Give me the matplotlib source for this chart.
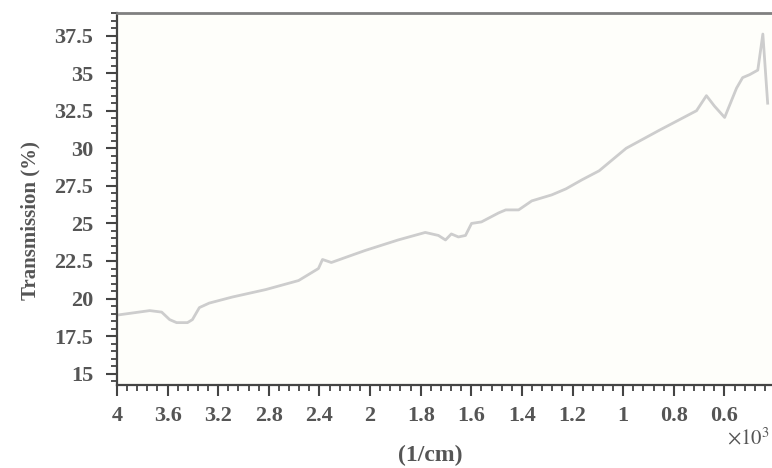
import numpy as np
import matplotlib
matplotlib.use('Agg')
import matplotlib.pyplot as plt
from matplotlib.ticker import FixedLocator, FixedFormatter, MultipleLocator

# wavenumber (1/cm) and transmission (%)
wavenumber = [4000, 3741, 3647, 3584, 3529, 3443, 3404, 3349, 3271, 3090,
              2824, 2565, 2408, 2376, 2306, 2173, 2039, 1889, 1782, 1730,
              1702, 1679, 1651, 1623, 1599, 1560, 1492, 1464, 1413, 1361,
              1282, 1226, 1163, 1095, 988, 857, 710, 671, 639, 599,
              552, 528, 500, 468, 448, 429]
transmission = [18.9, 19.2, 19.1, 18.6, 18.4, 18.4, 18.6, 19.4, 19.7, 20.1,
                20.6, 21.2, 22.0, 22.6, 22.4, 22.8, 23.2, 23.9, 24.4, 24.2,
                23.9, 24.3, 24.1, 24.2, 25.0, 25.1, 25.7, 25.9, 25.9, 26.5,
                26.9, 27.3, 27.9, 28.5, 30.0, 31.2, 32.5, 33.5, 32.8, 32.05,
                34.0, 34.7, 34.9, 35.2, 37.6, 33.0]

x_ticks = [4000, 3600, 3200, 2800, 2400, 2000, 1800, 1600, 1400, 1200, 1000, 800, 600]
x_tick_labels = ['4', '3.6', '3.2', '2.8', '2.4', '2', '1.8', '1.6', '1.4', '1.2', '1', '0.8', '0.6']
y_ticks = [15, 17.5, 20, 22.5, 25, 27.5, 30, 32.5, 35, 37.5]


# spectrum axis: above 2000 1/cm is drawn at half scale
def fwd(x):
    x = np.asarray(x, dtype=float)
    return np.where(x <= 2000, x, 2000 + (x - 2000) / 2)


def inv(t):
    t = np.asarray(t, dtype=float)
    return np.where(t <= 2000, t, 2000 + (t - 2000) * 2)


txt = '#555555'
plt.rcParams['font.family'] = ['Liberation Serif', 'DejaVu Serif']
plt.rcParams['mathtext.fontset'] = 'stix'

fig = plt.figure(figsize=(7.72, 4.68), dpi=100)
ax_w = 775 - 117
ax_h = 385 - 13
ax = fig.add_axes([117 / 772, 1 - 385 / 468, ax_w / 772, ax_h / 468])
ax.set_facecolor('#fefefa')

ax.set_xscale('function', functions=(fwd, inv))
ax.plot(wavenumber, transmission, color='#cdcdcd', lw=2)
ax.set_xlim(4000, 400)
ax.set_ylim(14.25, 39)

minor_x = list(np.arange(4000, 2000, -80)) + list(np.arange(2000, 400, -40))
ax.xaxis.set_major_locator(FixedLocator(x_ticks))
ax.xaxis.set_major_formatter(FixedFormatter(x_tick_labels))
ax.xaxis.set_minor_locator(FixedLocator(minor_x))
ax.yaxis.set_major_locator(FixedLocator(y_ticks))
ax.yaxis.set_major_formatter(FixedFormatter([f'{v:g}' for v in y_ticks]))
ax.yaxis.set_minor_locator(MultipleLocator(0.5))

ax.tick_params(which='major', direction='out', length=8, width=1.5, color='#444444',
               labelsize=16, labelcolor=txt)
ax.tick_params(axis='x', which='major', pad=7)
ax.tick_params(axis='y', which='major', pad=9)
ax.tick_params(which='minor', direction='out', length=4, width=1.3, color='#444444')
for lab in ax.get_xticklabels() + ax.get_yticklabels():
    lab.set_fontweight('bold')

for s in ['left', 'bottom']:
    ax.spines[s].set_color('#444444')
    ax.spines[s].set_linewidth(1.6)
ax.spines['top'].set_color('#808080')
ax.spines['top'].set_linewidth(2)
ax.spines['right'].set_visible(False)

ax.set_ylabel('Transmission (%)', fontsize=15, color=txt, fontweight='bold', va='center')
ax.yaxis.set_label_coords((30 - 117) / ax_w, (385 - 221) / ax_h)
ax.set_xlabel('(1/cm)', fontsize=17, color=txt, fontweight='bold', va='center')
ax.xaxis.set_label_coords((430 - 117) / ax_w, -(455 - 385) / ax_h)

fig.text(770 / 772, 1 - 439 / 468, r'$\times10^3$', fontsize=15, color=txt,
         ha='right', va='center')

fig.savefig('out.png', dpi=100, facecolor='white')
